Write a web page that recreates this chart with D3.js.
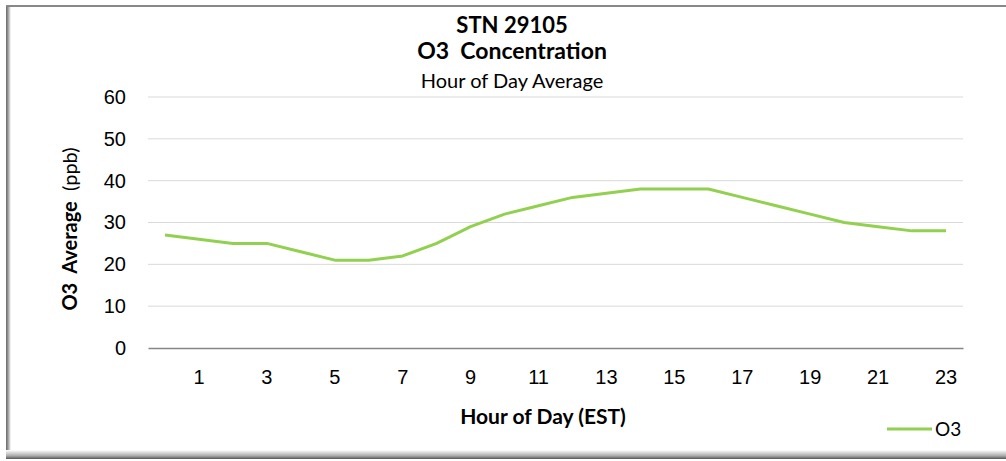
<!DOCTYPE html>
<html>
<head>
<meta charset="utf-8">
<script src="https://cdn.jsdelivr.net/npm/d3@7"></script>
<style>
  body { margin: 0; background: #fff; }
  svg { font-family: Lato, "Open Sans", sans-serif; }
</style>
</head>
<body>
<div id="chart"></div>
<script>
// hour of day average, O3 (ppb)
var hours = d3.range(0, 24);
var o3Values = [27, 26, 25, 25, 23, 21, 21, 22, 25, 29, 32, 34, 36, 37, 38, 38, 38, 36, 34, 32, 30, 29, 28, 28];
var yTicks = [0, 10, 20, 30, 40, 50, 60];
var xTickLabels = [1, 3, 5, 7, 9, 11, 13, 15, 17, 19, 21, 23];

var svgWidth = 1006;
var svgHeight = 461;
var margin = { top: 97, right: 43, bottom: 113, left: 148 };
var width = svgWidth - margin.left - margin.right;
var height = svgHeight - margin.top - margin.bottom;

var svg = d3.select("#chart")
    .append("svg")
    .attr("width", svgWidth)
    .attr("height", svgHeight);

// frame with shadow on left and bottom
var defs = svg.append("defs");
var gl = defs.append("linearGradient").attr("id", "shadeL");
gl.append("stop").attr("offset", "0%").attr("stop-color", "#666");
gl.append("stop").attr("offset", "40%").attr("stop-color", "#999");
gl.append("stop").attr("offset", "100%").attr("stop-color", "#fff");
var gb = defs.append("linearGradient").attr("id", "shadeB")
    .attr("x1", 0).attr("y1", 1).attr("x2", 0).attr("y2", 0);
gb.append("stop").attr("offset", "0%").attr("stop-color", "#555");
gb.append("stop").attr("offset", "35%").attr("stop-color", "#aaa");
gb.append("stop").attr("offset", "100%").attr("stop-color", "#fff");

svg.append("rect").attr("x", 6).attr("y", 6).attr("width", 5).attr("height", 452)
    .attr("fill", "url(#shadeL)");
svg.append("rect").attr("x", 6).attr("y", 450).attr("width", 1000).attr("height", 9)
    .attr("fill", "url(#shadeB)");
svg.append("rect").attr("x", 6).attr("y", 5).attr("width", 1000).attr("height", 2)
    .attr("fill", "#888");

var chartGroup = svg.append("g")
    .attr("transform", `translate(${margin.left}, ${margin.top})`);

// scales
var xBand = d3.scaleBand()
    .domain(hours)
    .range([0, width]);

var yLinearScale = d3.scaleLinear()
    .domain([0, 60])
    .range([height, 0]);

// gridlines
chartGroup.append("g")
    .selectAll("line")
    .data(yTicks.slice(1))
    .enter()
    .append("line")
    .attr("x1", 0)
    .attr("x2", width)
    .attr("y1", d => yLinearScale(d))
    .attr("y2", d => yLinearScale(d))
    .attr("stroke", "#d9d9d9")
    .attr("stroke-width", 1);

// y axis
var y_axis = d3.axisLeft(yLinearScale).tickValues(yTicks).tickSize(0).tickPadding(22);
var yG = chartGroup.append("g").call(y_axis);
yG.select(".domain").remove();
yG.selectAll("text").attr("font-size", "20px").attr("fill", "#000");

// x axis
var x_axis = d3.axisBottom(xBand)
    .tickValues(xTickLabels)
    .tickSize(0)
    .tickPadding(22);
var xG = chartGroup.append("g")
    .attr("transform", `translate(0, ${height})`)
    .call(x_axis);
xG.select(".domain").attr("stroke", "#868686").attr("stroke-width", 1.5);
xG.selectAll("text").attr("font-size", "20px").attr("fill", "#000");

// line
var line = d3.line()
    .x((d, i) => xBand(hours[i]) + xBand.bandwidth() / 2)
    .y(d => yLinearScale(d));

chartGroup.append("path")
    .datum(o3Values)
    .attr("fill", "none")
    .attr("stroke", "#92d050")
    .attr("stroke-width", 3)
    .attr("stroke-linejoin", "round")
    .attr("d", line);

// titles
var cx = 512;
svg.append("text").attr("x", cx).attr("y", 33).attr("text-anchor", "middle")
    .attr("font-size", "22px").attr("font-weight", "bold").text("STN 29105");
svg.append("text").attr("x", cx).attr("y", 59).attr("text-anchor", "middle")
    .attr("font-size", "23px").attr("font-weight", "bold").style("white-space", "pre")
    .text("O3  Concentration");
svg.append("text").attr("x", cx).attr("y", 88).attr("text-anchor", "middle")
    .attr("font-size", "20px").text("Hour of Day Average");

// axis titles
var yTitle = svg.append("text")
    .attr("transform", "translate(77, 229) rotate(-90)")
    .attr("text-anchor", "middle")
    .attr("font-size", "20px")
    .style("white-space", "pre");
yTitle.append("tspan").attr("font-weight", "bold").text("O3  Average");
yTitle.append("tspan").text("  (ppb)");

svg.append("text").attr("x", 543).attr("y", 424).attr("text-anchor", "middle")
    .attr("font-size", "21px").attr("font-weight", "bold").text("Hour of Day (EST)");

// legend
svg.append("line").attr("x1", 887).attr("x2", 932).attr("y1", 429).attr("y2", 429)
    .attr("stroke", "#92d050").attr("stroke-width", 3);
svg.append("text").attr("x", 935).attr("y", 436).attr("font-size", "19px").text("O3");
</script>
</body>
</html>
